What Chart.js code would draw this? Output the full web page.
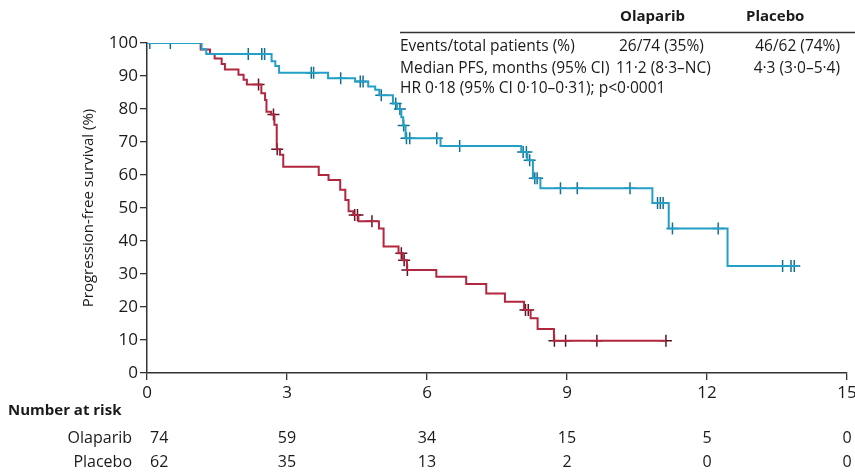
<!DOCTYPE html>
<html><head><meta charset="utf-8">
<script src="https://cdn.jsdelivr.net/npm/chart.js@4.4.1/dist/chart.umd.min.js"></script>
<style>html,body{margin:0;padding:0;background:#fff}#wrap{position:relative;width:855px;height:472px}</style>
</head><body><div id="wrap"><canvas id="c" width="855" height="472"></canvas></div>
<script>
// ---- data ----
const xTicks = [0, 3, 6, 9, 12, 15];
const yTicks = [0, 10, 20, 30, 40, 50, 60, 70, 80, 90, 100];

const olaparibTimes    = [0, 1.17, 1.27, 2.67, 2.75, 2.83, 3.88, 4.46, 4.74, 4.89, 4.98, 5.27, 5.36, 5.45, 5.49, 5.54, 6.29, 8.02, 8.15, 8.27, 8.43, 10.83, 11.18, 12.44, 13.96];
const olaparibSurvival = [100, 98.1, 96.7, 94.5, 93.0, 91.0, 89.3, 88.3, 86.8, 85.8, 84.2, 81.7, 80.0, 77.5, 75.0, 71.1, 68.8, 67.0, 64.5, 59.0, 56.0, 51.5, 43.8, 32.4, 32.4];
const olaparibCensorTimes = [0.06, 0.5, 2.17, 2.46, 2.52, 3.52, 3.57, 4.15, 4.57, 4.63, 5.02, 5.33, 5.42, 5.50, 5.56, 5.63, 6.21, 6.70, 8.06, 8.13, 8.20, 8.31, 8.36, 8.86, 9.22, 10.35, 10.94, 11.0, 11.06, 11.26, 12.24, 13.62, 13.8, 13.87];

const placeboTimes    = [0, 1.15, 1.35, 1.45, 1.60, 1.67, 1.96, 2.07, 2.14, 2.45, 2.53, 2.56, 2.66, 2.73, 2.78, 2.85, 2.92, 3.68, 3.89, 4.14, 4.25, 4.32, 4.42, 4.53, 4.97, 5.07, 5.39, 5.48, 5.57, 6.20, 6.84, 7.27, 7.67, 8.08, 8.22, 8.37, 8.72, 11.12];
const placeboSurvival = [100, 98.0, 96.7, 95.3, 93.6, 92.0, 90.4, 88.9, 87.4, 84.8, 82.7, 79.2, 78.3, 75.2, 67.8, 66.1, 62.5, 60.0, 58.5, 55.5, 52.4, 49.0, 47.9, 46.0, 43.8, 38.3, 36.3, 34.2, 31.2, 29.2, 27.0, 24.1, 21.6, 19.1, 16.6, 13.3, 9.8, 9.8];
const placeboCensorTimes = [2.39, 2.71, 2.79, 4.45, 4.51, 4.82, 5.45, 5.51, 5.58, 8.11, 8.17, 8.73, 8.97, 9.64, 11.12];

const riskGroups = ['Olaparib', 'Placebo'];
const olaparibAtRisk = [74, 59, 34, 15, 5, 0];
const placeboAtRisk  = [62, 35, 13, 2, 0, 0];

const tableHeaders = ['Olaparib', 'Placebo'];
const tableRowLabels = ['Events/total patients (%)', 'Median PFS, months (95% CI)'];
const olaparibStats = ['26/74 (35%)', '11·2 (8·3–NC)'];
const placeboStats  = ['46/62 (74%)', '4·3 (3·0–5·4)'];
const hrText = 'HR 0·18 (95% CI 0·10–0·31); p<0·0001';
const yTitle = 'Progression-free survival (%)';
const riskTitle = 'Number at risk';

// ---- helpers ----
function survivalAt(times, surv, t) {
  let v = surv[0];
  for (let i = 0; i < times.length; i++) { if (times[i] <= t) v = surv[i]; }
  return v;
}
const toPts = (ts, ss) => ts.map((t, i) => ({x: t, y: ss[i]}));
const censorPts = (cts, ts, ss) => cts.map(t => ({x: t, y: survivalAt(ts, ss, t)}));

const BLUE = '#22a0c8', BLUE_D = '#137090';
const RED = '#b3263f', RED_D = '#5e1424';
const FONT = "'Open Sans', 'Noto Sans', sans-serif";
const NARROW = "'Liberation Sans Narrow', 'Open Sans', sans-serif";

const tablePlugin = {
  id: 'tables',
  afterDraw(chart) {
    const ctx = chart.ctx;
    const xs = chart.scales.x;
    ctx.save();
    ctx.fillStyle = '#1a1a1a';
    ctx.textBaseline = 'middle';
    // header table
    ctx.font = `bold 15px ${FONT}`;
    ctx.textAlign = 'left';
    ctx.fillText(tableHeaders[0], 620, 17);
    ctx.fillText(tableHeaders[1], 746, 17);
    ctx.strokeStyle = '#333'; ctx.lineWidth = 1.5;
    ctx.beginPath(); ctx.moveTo(400, 32.5); ctx.lineTo(855, 32.5); ctx.stroke();
    ctx.font = `15.5px ${FONT}`;
    const rowY = [47, 68.5];
    tableRowLabels.forEach((lab, i) => {
      ctx.textAlign = 'left';
      ctx.fillText(lab, 400, rowY[i]);
      ctx.fillText(olaparibStats[i], i === 0 ? 619 : 616, rowY[i]);
      ctx.textAlign = 'right';
      ctx.fillText(placeboStats[i], 840, rowY[i]);
    });
    ctx.textAlign = 'left';
    ctx.fillText(hrText, 400, 89);
    // risk table
    ctx.font = `bold 15px ${FONT}`;
    ctx.fillText(riskTitle, 8, 411);
    ctx.font = `16px ${FONT}`;
    const rows = [olaparibAtRisk, placeboAtRisk];
    const ry = [438, 462];
    riskGroups.forEach((g, r) => {
      ctx.textAlign = 'right';
      ctx.fillText(g, 132, ry[r]);
      rows[r].forEach((n, i) => {
        const px = xs.getPixelForValue(xTicks[i]);
        if (i === 0) { ctx.textAlign = 'left'; ctx.fillText(String(n), px + 3, ry[r]); }
        else { ctx.textAlign = 'center'; ctx.fillText(String(n), px, ry[r]); }
      });
    });
    ctx.restore();
  }
};

const axisCommon = {
  grid: {display: true, drawOnChartArea: false, drawTicks: true, tickLength: 7, color: '#333', lineWidth: 1.3},
  border: {display: true, color: '#333', width: 1.5},
  ticks: {color: '#1a1a1a', font: {family: FONT, size: 17}, padding: 2, autoSkip: false, maxRotation: 0}
};

new Chart(document.getElementById('c'), {
  type: 'line',
  data: {
    datasets: [
      {label: 'Olaparib', data: toPts(olaparibTimes, olaparibSurvival), stepped: 'before', borderColor: BLUE, borderWidth: 2, pointRadius: 0, fill: false},
      {label: 'Placebo', data: toPts(placeboTimes, placeboSurvival), stepped: 'before', borderColor: RED, borderWidth: 2, pointRadius: 0, fill: false},
      {label: 'Olaparib censored', data: censorPts(olaparibCensorTimes, olaparibTimes, olaparibSurvival), showLine: false, pointStyle: 'cross', pointRadius: 6, borderColor: BLUE_D, borderWidth: 1.5, pointHoverRadius: 6},
      {label: 'Placebo censored', data: censorPts(placeboCensorTimes, placeboTimes, placeboSurvival), showLine: false, pointStyle: 'cross', pointRadius: 6, borderColor: RED_D, borderWidth: 1.5, pointHoverRadius: 6}
    ]
  },
  options: {
    responsive: false, animation: false,
    layout: {padding: {top: 43, right: 8, bottom: 66, left: 80}},
    plugins: {legend: {display: false}, tooltip: {enabled: false}},
    scales: {
      x: Object.assign({}, axisCommon, {
        type: 'linear', min: 0, max: 15,
        ticks: Object.assign({}, axisCommon.ticks, {padding: 3}),
        afterBuildTicks: s => { s.ticks = xTicks.map(v => ({value: v})); },
        afterFit: s => { s.height = 33; s.paddingRight = 0; s.paddingLeft = 0; }
      }),
      y: Object.assign({}, axisCommon, {
        type: 'linear', min: 0, max: 100,
        afterBuildTicks: s => { s.ticks = yTicks.map(v => ({value: v})); },
        afterFit: s => { s.width = 67; },
        title: {display: true, text: yTitle, color: '#1a1a1a', font: {family: NARROW, size: 15}, padding: {top: 0, bottom: 4}}
      })
    }
  },
  plugins: [tablePlugin]
});
</script>
</body></html>
